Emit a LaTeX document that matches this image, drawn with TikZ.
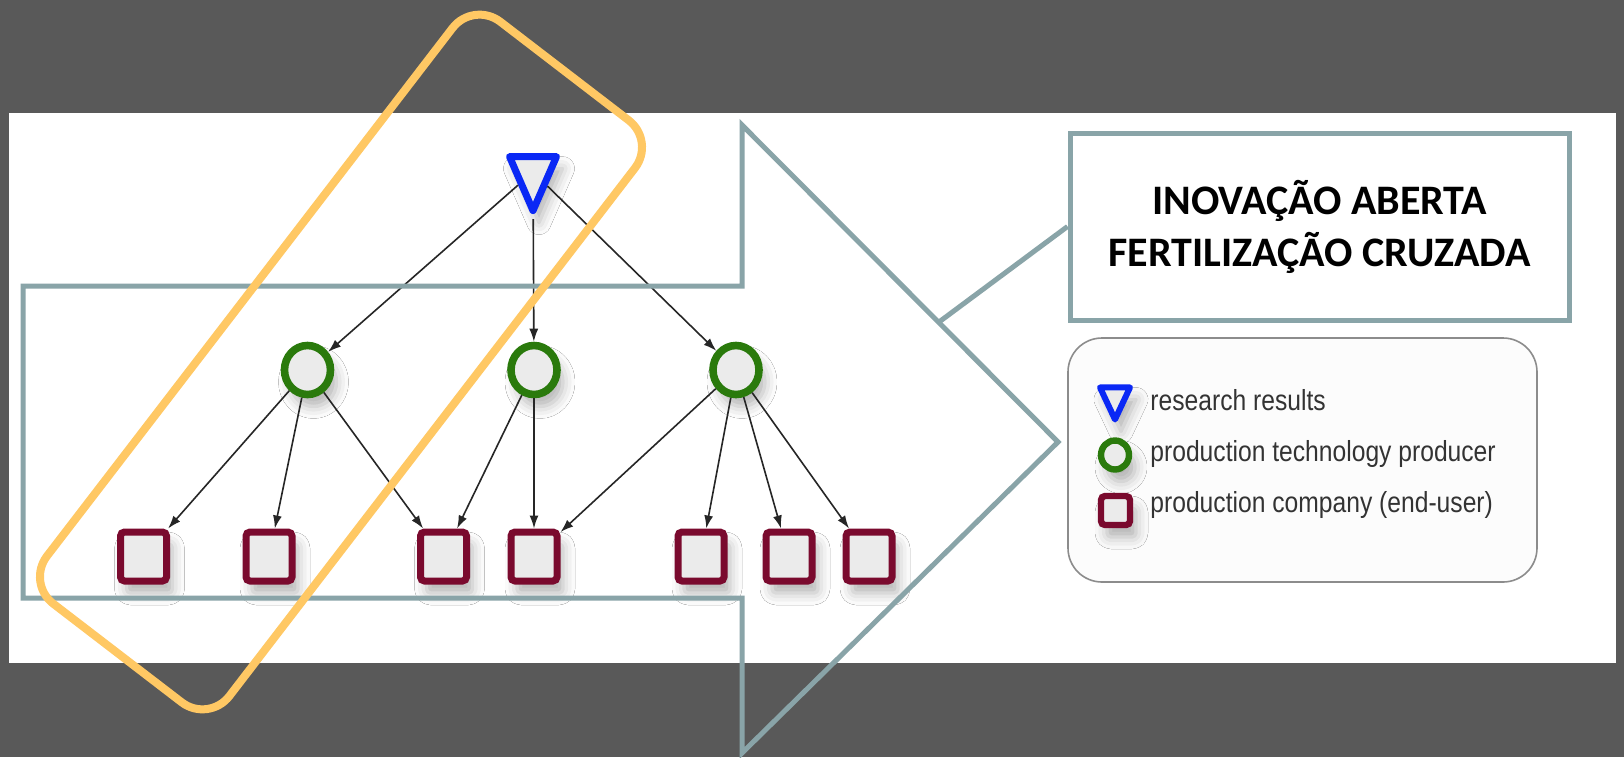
\documentclass[tikz,border=0pt]{standalone}
\usepackage{fontspec}
\usepackage{xcolor}
\usepackage{tikz}
\usetikzlibrary{arrows.meta,positioning,shapes,calc,shadows.blur}
\newfontfamily\boxfont{Carlito}
\newfontfamily\legendfont[FakeStretch=0.85]{Liberation Sans}
\definecolor{slate}{HTML}{595959}
\definecolor{arrowteal}{HTML}{89A4A8}
\definecolor{orangeline}{HTML}{FFC864}
\definecolor{resblue}{HTML}{0A28F5}
\definecolor{techgreen}{HTML}{2A7A0C}
\definecolor{firmred}{HTML}{7A0A2E}

\begin{document}
\begin{tikzpicture}[x=0.5pt,y=-0.5pt,
    result/.style={isosceles triangle, isosceles triangle stretches, shape border rotate=-90,
        draw=resblue, line width=3.5pt, line join=round, fill=black!8,
        minimum width=23.5pt, minimum height=27pt, inner sep=0pt},
    producer/.style={ellipse, draw=techgreen, line width=3.8pt, fill=black!8,
        minimum width=23pt, minimum height=24.5pt, inner sep=0pt},
    company/.style={rectangle, rounded corners=2pt, draw=firmred, line width=3.5pt, fill=black!8,
        minimum width=23pt, minimum height=24.5pt, inner sep=0pt},
    shade/.style={blur shadow={shadow xshift=3pt, shadow yshift=-6pt, shadow blur radius=6pt, shadow opacity=30}},
    link/.style={-{Latex[length=6.5pt,width=4.5pt]}, line width=0.8pt, black!85},
    outline/.style={draw=arrowteal, line width=2.5pt},
    keytext/.style={anchor=base west, inner sep=0pt, text=black!80, font=\legendfont\fontsize{14.5}{17}\selectfont}]

    \useasboundingbox (0,0) rectangle (1624,757);
    % Slide background and white panel
    \fill[slate] (0,0) rectangle (1624,757);
    \fill[white] (9,113) rectangle (1616,663);

    % Network
    \node[result,shade] (res) at (533,172) {};
    \node[producer,shade] (p1) at (307.5,370) {};
    \node[producer,shade] (p2) at (534,370) {};
    \node[producer,shade] (p3) at (736,370) {};
    \foreach \x [count=\i] in {143.5,269,443.5,534,701,789,869}
        \node[company,shade] (c\i) at (\x,556.5) {};

    \foreach \p in {p1,p2,p3}
        \draw[link] (res) -- (\p);
    \foreach \a/\b in {p1/c1,p1/c2,p1/c3,p2/c3,p2/c4,p3/c4,p3/c5,p3/c6,p3/c7}
        \draw[link] (\a) -- (\b);

    % Big arrow outline
    \draw[outline] (23,286) -- (742,286) -- (742,125) -- (1058,442) -- (742,753) -- (742,598) -- (23,598) -- cycle;

    % Callout box
    \node[outline, fill=white, minimum width=249.5pt, minimum height=93.5pt, align=center,
        font=\boxfont\bfseries\fontsize{21}{26}\selectfont] (box) at (1319.5,226.5)
        {INOVAÇÃO ABERTA\\FERTILIZAÇÃO CRUZADA};
    \coordinate (hook) at (939,322);
    \draw[outline] (hook) -- (box.west);

    % Legend
    \draw[black!45, line width=0.8pt, rounded corners=17pt, fill=black!1] (1068,338) rectangle (1537,582);
    \node[result,shade, line width=3pt, minimum width=15pt, minimum height=16pt] (keyres) at (1115,397) {};
    \node[producer,shade, line width=3.2pt, minimum width=14pt, minimum height=14.5pt] (keyprod) at (1115,455) {};
    \node[company,shade, line width=3.2pt, minimum width=14.5pt, minimum height=14.5pt] (keyfirm) at (1115.5,510.5) {};
    \node[keytext] (keyrestxt) at (1150,410) {research results};
    \node[keytext] (keyprodtxt) at (1150,461) {production technology producer};
    \node[keytext] (keyfirmtxt) at (1150,512) {production company (end-user)};

    % Highlight
    \draw[orangeline, line width=4pt, rounded corners=17pt] (473.3,1) -- (655.7,141) -- (208.7,723) -- (26.3,583) -- cycle;
\end{tikzpicture}
\end{document}
